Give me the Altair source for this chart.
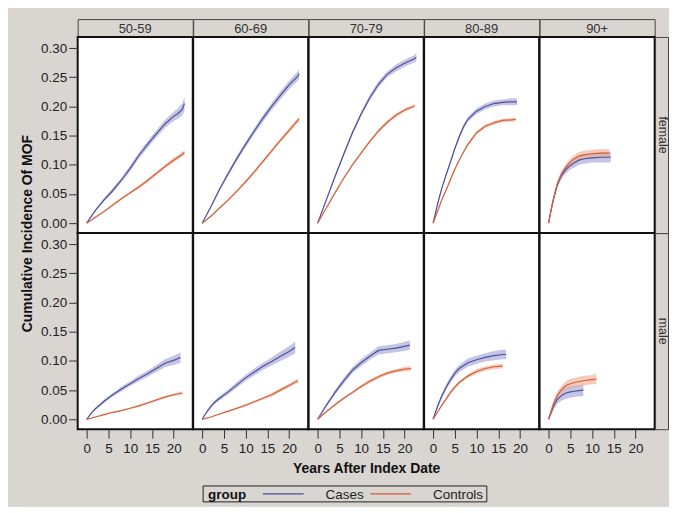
import altair as alt
import pandas as pd

AGES = ["50-59", "60-69", "70-79", "80-89", "90+"]
SEXES = ["female", "male"]
GROUPS = ["Cases", "Controls"]
LEGEND_TITLE = "group"

# (years, estimate, CI half-width) per sex / age band / group
F_50_CASES = ([0, 2, 4, 6, 8, 10, 12, 14, 16, 18, 20, 21, 22, 22.5],
              [0, 0.022, 0.040, 0.056, 0.074, 0.094, 0.116, 0.135, 0.153, 0.170, 0.183, 0.188, 0.195, 0.205],
              [0, 0.002, 0.003, 0.004, 0.004, 0.005, 0.005, 0.006, 0.006, 0.007, 0.008, 0.009, 0.010, 0.012])
F_50_CTRL = ([0, 2, 4, 6, 8, 10, 12, 14, 16, 18, 20, 22, 22.5],
             [0, 0.010, 0.020, 0.031, 0.042, 0.052, 0.062, 0.073, 0.085, 0.097, 0.108, 0.118, 0.121],
             [0, 0.001, 0.001, 0.002, 0.002, 0.002, 0.003, 0.003, 0.003, 0.003, 0.004, 0.004, 0.004])
F_60_CASES = ([0, 2, 4, 6, 8, 10, 12, 14, 16, 18, 20, 22, 22.3],
              [0, 0.028, 0.058, 0.085, 0.111, 0.135, 0.158, 0.180, 0.200, 0.219, 0.237, 0.252, 0.256],
              [0, 0.002, 0.003, 0.004, 0.004, 0.005, 0.005, 0.006, 0.006, 0.007, 0.007, 0.008, 0.008])
F_60_CTRL = ([0, 2, 4, 6, 8, 10, 12, 14, 16, 18, 20, 22, 22.3],
             [0, 0.012, 0.026, 0.040, 0.055, 0.071, 0.088, 0.106, 0.124, 0.142, 0.159, 0.176, 0.179],
             [0, 0.001, 0.001, 0.002, 0.002, 0.002, 0.003, 0.003, 0.003, 0.003, 0.004, 0.004, 0.004])
F_70_CASES = ([0, 1, 2, 4, 6, 8, 10, 12, 14, 16, 18, 20, 22, 22.7],
              [0, 0.020, 0.040, 0.080, 0.118, 0.155, 0.187, 0.215, 0.238, 0.255, 0.266, 0.274, 0.281, 0.284],
              [0, 0.001, 0.002, 0.003, 0.003, 0.004, 0.004, 0.005, 0.005, 0.005, 0.006, 0.006, 0.006, 0.007])
F_70_CTRL = ([0, 2, 4, 6, 8, 10, 12, 14, 16, 18, 20, 22, 22.3],
             [0, 0.026, 0.052, 0.077, 0.100, 0.120, 0.140, 0.158, 0.173, 0.185, 0.194, 0.200, 0.201],
             [0, 0.001, 0.001, 0.002, 0.002, 0.002, 0.002, 0.003, 0.003, 0.003, 0.003, 0.003, 0.003])
F_80_CASES = ([0, 1, 2, 3, 4, 5, 6, 7, 8, 10, 12, 14, 16, 18, 19.3],
              [0, 0.032, 0.060, 0.083, 0.105, 0.128, 0.148, 0.165, 0.178, 0.192, 0.200, 0.205, 0.207, 0.208, 0.208],
              [0, 0.002, 0.002, 0.003, 0.003, 0.003, 0.004, 0.004, 0.004, 0.005, 0.005, 0.005, 0.005, 0.006, 0.006])
F_80_CTRL = ([0, 1, 2, 3, 4, 5, 6, 7, 8, 10, 12, 14, 16, 18, 19],
             [0, 0.020, 0.040, 0.057, 0.075, 0.093, 0.108, 0.122, 0.135, 0.155, 0.166, 0.172, 0.176, 0.177, 0.178],
             [0, 0.001, 0.001, 0.002, 0.002, 0.002, 0.002, 0.002, 0.003, 0.003, 0.003, 0.003, 0.003, 0.003, 0.003])
F_90_CASES = ([0, 0.5, 1, 1.5, 2, 3, 4, 5, 6, 7, 8, 10, 12, 14.3],
              [0, 0.020, 0.037, 0.052, 0.066, 0.082, 0.092, 0.099, 0.104, 0.108, 0.110, 0.112, 0.113, 0.113],
              [0, 0.003, 0.004, 0.005, 0.006, 0.006, 0.007, 0.007, 0.008, 0.008, 0.008, 0.008, 0.009, 0.009])
F_90_CTRL = ([0, 0.5, 1, 1.5, 2, 3, 4, 5, 6, 7, 8, 10, 12, 14],
             [0, 0.020, 0.038, 0.053, 0.067, 0.085, 0.096, 0.105, 0.111, 0.115, 0.117, 0.119, 0.120, 0.120],
             [0, 0.002, 0.003, 0.004, 0.005, 0.005, 0.006, 0.006, 0.006, 0.007, 0.007, 0.007, 0.007, 0.007])
M_50_CASES = ([0, 1, 2, 4, 6, 8, 10, 12, 14, 16, 18, 20, 21.6],
              [0, 0.010, 0.018, 0.031, 0.042, 0.052, 0.061, 0.070, 0.078, 0.087, 0.096, 0.101, 0.106],
              [0, 0.001, 0.002, 0.003, 0.003, 0.004, 0.004, 0.005, 0.005, 0.006, 0.007, 0.008, 0.009])
M_50_CTRL = ([0, 2, 4, 6, 8, 10, 12, 14, 16, 18, 20, 22],
             [0, 0.004, 0.008, 0.012, 0.015, 0.019, 0.023, 0.028, 0.033, 0.038, 0.042, 0.045],
             [0, 0.001, 0.001, 0.001, 0.001, 0.001, 0.002, 0.002, 0.002, 0.002, 0.002, 0.003])
M_60_CASES = ([0, 1, 2, 3, 4, 6, 8, 10, 12, 14, 16, 18, 20, 21.4],
              [0, 0.012, 0.022, 0.030, 0.036, 0.047, 0.059, 0.071, 0.081, 0.091, 0.099, 0.108, 0.116, 0.123],
              [0, 0.002, 0.003, 0.003, 0.004, 0.004, 0.005, 0.005, 0.006, 0.006, 0.007, 0.008, 0.009, 0.010])
M_60_CTRL = ([0, 2, 4, 6, 8, 10, 12, 14, 16, 18, 20, 22],
             [0, 0.004, 0.009, 0.014, 0.019, 0.024, 0.030, 0.036, 0.042, 0.050, 0.058, 0.066],
             [0, 0.001, 0.001, 0.001, 0.002, 0.002, 0.002, 0.002, 0.003, 0.003, 0.003, 0.004])
M_70_CASES = ([0, 1, 2, 3, 4, 6, 8, 10, 12, 14, 16, 18, 20, 21.2],
              [0, 0.012, 0.024, 0.035, 0.046, 0.066, 0.084, 0.097, 0.108, 0.118, 0.120, 0.122, 0.125, 0.127],
              [0, 0.002, 0.003, 0.003, 0.004, 0.005, 0.005, 0.006, 0.006, 0.007, 0.007, 0.007, 0.008, 0.008])
M_70_CTRL = ([0, 2, 4, 6, 8, 10, 12, 14, 16, 18, 20, 21.5],
             [0, 0.013, 0.025, 0.036, 0.046, 0.056, 0.065, 0.073, 0.079, 0.083, 0.086, 0.087],
             [0, 0.001, 0.002, 0.002, 0.002, 0.003, 0.003, 0.003, 0.003, 0.003, 0.004, 0.004])
M_80_CASES = ([0, 1, 2, 3, 4, 5, 6, 8, 10, 12, 14, 16, 16.8],
              [0, 0.022, 0.040, 0.055, 0.068, 0.079, 0.087, 0.097, 0.102, 0.106, 0.109, 0.111, 0.111],
              [0, 0.003, 0.004, 0.005, 0.005, 0.006, 0.006, 0.007, 0.007, 0.007, 0.008, 0.008, 0.008])
M_80_CTRL = ([0, 1, 2, 3, 4, 5, 6, 8, 10, 12, 14, 16],
             [0, 0.012, 0.024, 0.035, 0.046, 0.055, 0.063, 0.074, 0.082, 0.087, 0.090, 0.091],
             [0, 0.001, 0.002, 0.002, 0.003, 0.003, 0.003, 0.003, 0.004, 0.004, 0.004, 0.004])
M_90_CASES = ([0, 0.5, 1, 1.5, 2, 3, 4, 5, 6, 7, 8],
              [0, 0.010, 0.020, 0.028, 0.034, 0.041, 0.045, 0.047, 0.048, 0.049, 0.050],
              [0, 0.004, 0.006, 0.007, 0.008, 0.009, 0.010, 0.010, 0.010, 0.010, 0.010])
M_90_CTRL = ([0, 0.5, 1, 1.5, 2, 3, 4, 5, 6, 8, 10, 11],
             [0, 0.012, 0.024, 0.033, 0.041, 0.051, 0.058, 0.061, 0.063, 0.066, 0.068, 0.069],
             [0, 0.003, 0.004, 0.005, 0.006, 0.007, 0.007, 0.008, 0.008, 0.008, 0.008, 0.009])

SERIES = {
    ("female", "50-59"): (F_50_CASES, F_50_CTRL),
    ("female", "60-69"): (F_60_CASES, F_60_CTRL),
    ("female", "70-79"): (F_70_CASES, F_70_CTRL),
    ("female", "80-89"): (F_80_CASES, F_80_CTRL),
    ("female", "90+"): (F_90_CASES, F_90_CTRL),
    ("male", "50-59"): (M_50_CASES, M_50_CTRL),
    ("male", "60-69"): (M_60_CASES, M_60_CTRL),
    ("male", "70-79"): (M_70_CASES, M_70_CTRL),
    ("male", "80-89"): (M_80_CASES, M_80_CTRL),
    ("male", "90+"): (M_90_CASES, M_90_CTRL),
}

X_TICKS = [0, 5, 10, 15, 20]
Y_TICKS = [0, 0.05, 0.10, 0.15, 0.20, 0.25, 0.30]

rows = []
for (sex, age), pair in SERIES.items():
    for grp, (yrs, est, hw) in zip(GROUPS, pair):
        for t, e, h in zip(yrs, est, hw):
            rows.append({"sex": sex, "age": age, "group": grp, "year": t,
                         "est": e, "lo": e - h, "hi": e + h})
df = pd.DataFrame(rows)

GRAY = "#d9d5d1"
FONT = "Liberation Sans"
LINE_COLORS = ["#4d519b", "#d2603a"]
BAND_COLORS = ["#9c9fd3", "#f0a88c"]
PW, PH = 115.6, 197
HH = 18
SW = 13

xs = alt.Scale(domain=[-2.07, 24.4], nice=False, zero=False)
ys = alt.Scale(domain=[-0.017, 0.319], nice=False, zero=False)
color_scale = alt.Scale(domain=GROUPS, range=LINE_COLORS)
fill_scale = alt.Scale(domain=GROUPS, range=BAND_COLORS)


def legend_layers():
    # key drawn below the x-axis title, in the coordinates of the bottom-middle panel
    ly = 262
    box = alt.Chart(pd.DataFrame({"t": [LEGEND_TITLE]})).mark_rect(
        fill=GRAY, stroke="#222", strokeWidth=1).encode(
        x=alt.value(-106), x2=alt.value(179), y=alt.value(ly - 8), y2=alt.value(ly + 8))
    title = alt.Chart(pd.DataFrame({"t": [LEGEND_TITLE]})).mark_text(
        align="left", baseline="middle", fontWeight="bold", fontSize=13.5,
        color="#111", font=FONT).encode(text="t:N", x=alt.value(-101), y=alt.value(ly + 1))
    out = [box, title]
    for grp, col, x0, x1, xt in zip(GROUPS, LINE_COLORS, [-46, 62], [-5, 103], [17, 125]):
        out.append(alt.Chart(pd.DataFrame({"t": [grp]})).mark_rule(
            color=col, strokeWidth=1.3).encode(
            x=alt.value(x0), x2=alt.value(x1), y=alt.value(ly)))
        out.append(alt.Chart(pd.DataFrame({"t": [grp]})).mark_text(
            align="left", baseline="middle", fontSize=13.5, color="#222",
            font=FONT).encode(text="t:N", x=alt.value(xt), y=alt.value(ly + 1)))
    return out


def panel(sex, age, ri, ci):
    d = df[(df.sex == sex) & (df.age == age)]
    if ri == 1:
        x_axis = alt.Axis(values=X_TICKS, format="d", tickSize=9, labelPadding=3,
                          domain=False, grid=False,
                          title="Years After Index Date" if ci == 2 else None,
                          titlePadding=7)
    else:
        x_axis = None
    if ci == 0:
        y_axis = alt.Axis(values=Y_TICKS, format=".2f", tickSize=9, labelPadding=2,
                          domain=False, grid=False,
                          title="Cumulative Incidence Of MOF" if ri == 0 else None,
                          titleY=PH, titlePadding=6)
    else:
        y_axis = None
    xenc = alt.X("year:Q", scale=xs, axis=x_axis)
    base = alt.Chart(d)
    band = base.mark_area(opacity=0.6).encode(
        x=xenc,
        y=alt.Y("lo:Q", scale=ys, axis=y_axis),
        y2="hi:Q",
        fill=alt.Fill("group:N", scale=fill_scale, legend=None),
    )
    line = base.mark_line(strokeWidth=1.2).encode(
        x=xenc,
        y=alt.Y("est:Q", scale=ys, axis=y_axis),
        color=alt.Color("group:N", scale=color_scale, legend=None),
    )
    layers = [band, line]
    if ri == 1 and ci == 2:
        layers += legend_layers()
    return alt.layer(*layers).properties(
        width=PW, height=PH,
        view=alt.ViewBackground(fill="white", stroke="#111", strokeWidth=2))


def header(label):
    return alt.Chart(pd.DataFrame({"t": [label]})).mark_text(
        font=FONT, fontSize=13, color="#333").encode(
        text="t:N", x=alt.value(PW / 2), y=alt.value(HH / 2 + 1)).properties(
        width=PW, height=HH,
        view=alt.ViewBackground(fill=GRAY, stroke="#444", strokeWidth=1))


def strip(label):
    return alt.Chart(pd.DataFrame({"t": [label]})).mark_text(
        font=FONT, fontSize=12.5, color="#333", angle=90).encode(
        text="t:N", x=alt.value(SW / 2 + 1), y=alt.value(PH / 2)).properties(
        width=SW, height=PH,
        view=alt.ViewBackground(fill=GRAY, stroke="#444", strokeWidth=1))


corner = alt.Chart(pd.DataFrame({"t": [""]})).mark_text().encode(
    text="t:N", x=alt.value(0), y=alt.value(0)).properties(
    width=SW, height=HH, view=alt.ViewBackground(stroke="transparent"))

cells = [header(a) for a in AGES] + [corner]
for ri, sex in enumerate(SEXES):
    cells += [panel(sex, a, ri, ci) for ci, a in enumerate(AGES)] + [strip(sex)]

chart = alt.concat(*cells, columns=6, spacing=0, bounds="flush").resolve_scale(
    color="shared", fill="shared").properties(
    background=GRAY,
    padding={"left": 11, "top": 3, "right": 0, "bottom": 2},
).configure_axis(
    labelFont=FONT, labelFontSize=13.5, labelColor="#222",
    titleFont=FONT, titleFontSize=14, titleFontWeight="bold", titleColor="#111",
    tickColor="#333", tickWidth=1,
).configure_text(font=FONT)

chart.save("out.html", embed_options={"renderer": "svg", "actions": False})
